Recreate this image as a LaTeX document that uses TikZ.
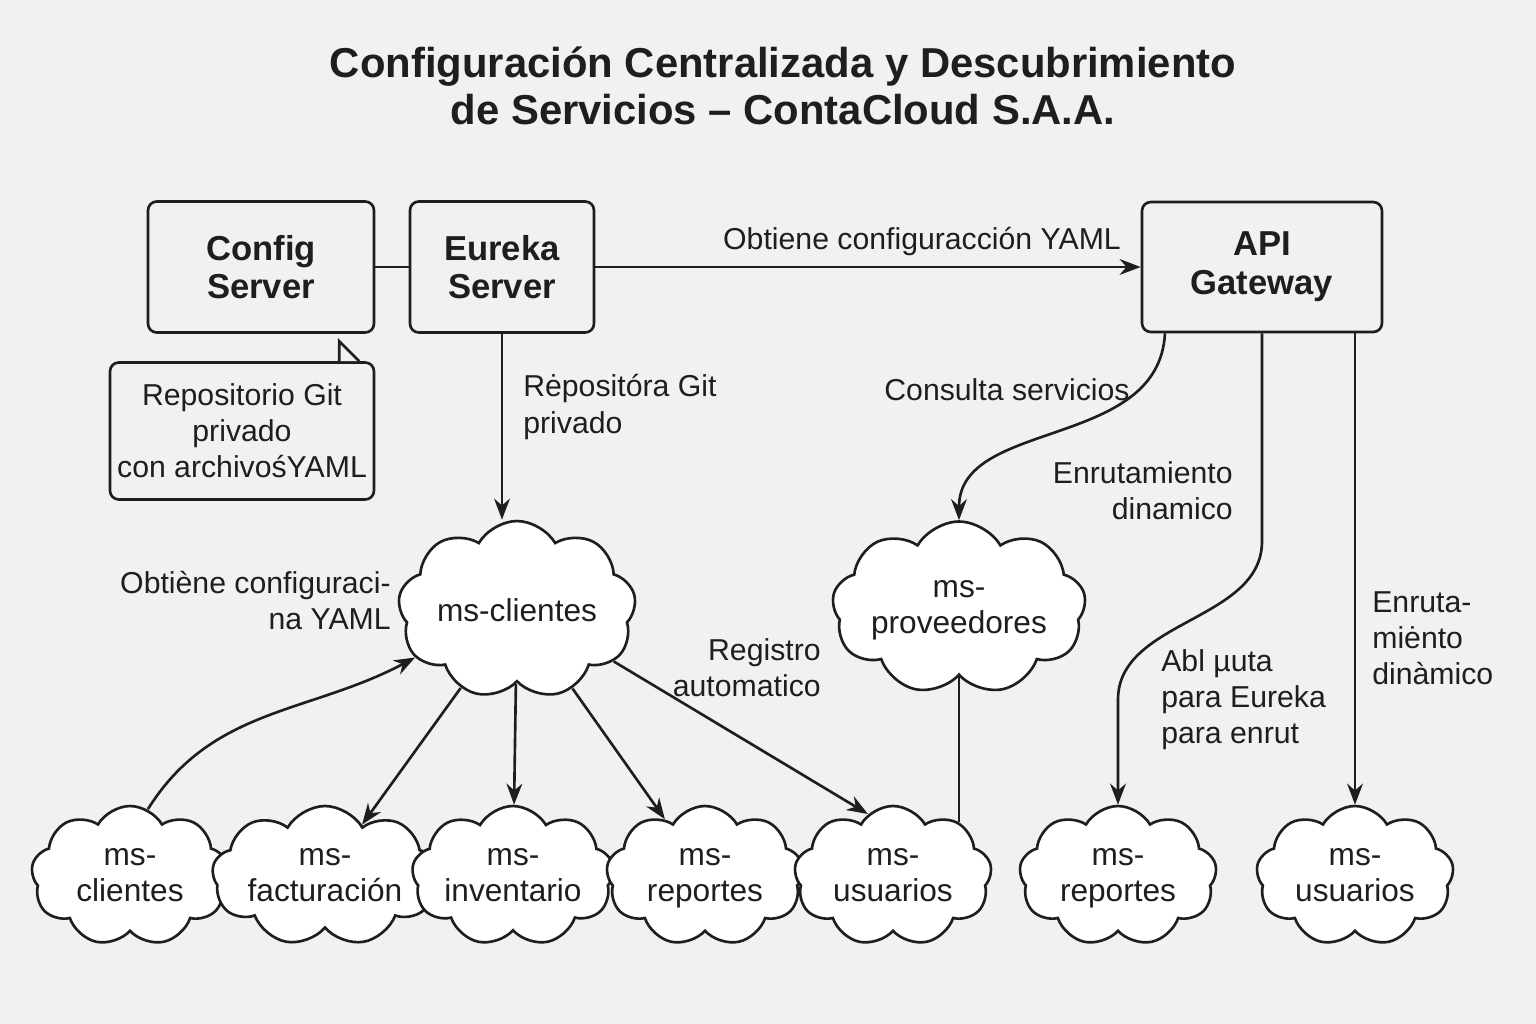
\documentclass[tikz,border=0pt]{standalone}
\usepackage{fontspec}
\setmainfont{Liberation Sans}
\usetikzlibrary{shapes.symbols,arrows.meta,positioning,calc}
\definecolor{fondo}{HTML}{F1F1F1}
\definecolor{tinta}{HTML}{1E1E1E}
\newcommand\etiq{\fontsize{17.2}{20.5}\selectfont}
\newcommand\fuentenube{\fontsize{18}{20.5}\selectfont}
\newcommand\fuentecaja{\fontsize{19.7}{22}\selectfont\bfseries}
\newcommand\fuentetitulo{\fontsize{23.8}{26.8}\selectfont\bfseries}
\def\fila{876}

\begin{document}
\begin{tikzpicture}[x=0.02cm,y=-0.02cm,line width=1.5pt,color=tinta,>={Stealth[length=12pt,width=9pt]}]
    \tikzstyle{servidor}=[draw,rounded corners=5pt,fill=fondo,font=\fuentecaja,align=center,minimum height=2.62cm]
    \tikzstyle{nube}=[cloud,cloud puffs=9,cloud puff arc=120,cloud ignores aspect,draw,fill=white,align=center,font=\fuentenube,inner sep=0pt]
    \tikzstyle{abajo}=[nube,minimum width=3.95cm,minimum height=2.8cm]
    \tikzstyle{nota}=[font=\etiq,inner sep=0pt]

    % Background and page size
    \fill[fondo] (0,0) rectangle (1536,1024);
    \useasboundingbox (0,0) rectangle (1536,1024);

    % Title
    \node[font=\fuentetitulo,align=center] (titulo) at (783,86) {Configuración Centralizada y Descubrimiento\\de Servicios – ContaCloud S.A.A.};

    % Draw the servers
    \node[servidor,minimum width=4.52cm] (config) at (261,267) {Config\\Server};
    \node[servidor,minimum width=3.68cm] (eureka) at (502,267) {Eureka\\Server};
    \node[servidor,minimum width=4.8cm,minimum height=2.6cm] (api) at (1262,267) {API\\Gateway};

    % Repository note with its pointer
    \node[draw,rounded corners=5pt,fill=fondo,font=\etiq,align=center,minimum width=5.28cm,minimum height=2.74cm] (repo) at (242,431) {Repositorio Git\\privado\\con archivośYAML};
    \draw[fill=fondo] ($(repo.north east)+(-36,0)$) -- ++(0,-20) -- ++(20,20);

    % Draw the clouds in the middle row
    \node[nube,minimum width=4.76cm,minimum height=3.56cm] (clientes) at (517,610) {ms-clientes};
    \node[nube,minimum width=4.76cm,minimum height=3.46cm] (proveedores) at (959,608) {\strut ms-\\proveedores\strut};

    % Draw the bottom row of clouds
    \foreach \num/\x/\texto in {1/130/clientes,2/325/facturación,3/513/inventario,4/705/reportes,5/893/usuarios,6/1118/reportes,7/1355/usuarios}
        \node[abajo] (M-\num) at (\x,\fila) {\strut ms-\\\texto\strut};

    % Connect the servers
    \draw (config.east) -- (eureka.west);
    \draw[->] (eureka.east) -- (api.west);
    \draw[->] (eureka.south) -- (eureka.south |- clientes.north);

    % Connect ms-clientes with the bottom row
    \draw[->] (M-1.75) to[out=58,in=-152] (clientes.205);
    \foreach \dest in {2,...,4}
        \draw[->] (clientes) -- (M-\dest);
    \draw[->] (clientes.-28) -- (M-5.112);
    \draw (proveedores.south) -- (proveedores.south |- M-5.40);

    % Connect the gateway
    \draw[->] ($(api.south west)!0.1!(api.south east)$) .. controls ++(-6,117) and ($(proveedores.north)+(0,-102)$) .. (proveedores.north);
    \draw[->] (api.south) -- ++(0,208) .. controls ++(0,80) and ($(M-6.north)+(0,-185)$) .. ($(M-6.north)+(0,-105)$) -- (M-6.north);
    \draw[->] (api.south -| M-7.north) -- (M-7.north);

    % Annotate the connectors
    \node[nota] (l-yaml) at (922,242) {Obtiene configuracción YAML};
    \node[nota,align=left,anchor=west] (l-git) at (522,407) {Rėpositóra Git\\privado};
    \node[nota] (l-consulta) at (1007,390) {Consulta servicios};
    \node[nota,align=right,anchor=east] (l-enr1) at (1234,491) {Enrutamiento\\dinamico};
    \node[nota,align=right,anchor=east] (l-obt) at (392,601) {Obtiène configuraci-\\na YAML};
    \node[nota,align=right,anchor=east] (l-reg) at (822,668) {Registro\\automatico};
    \node[nota,align=left,anchor=west] (l-abl) at (1160,700) {Abl µuta\\para Eureka\\para enrut};
    \node[nota,align=left,anchor=west] (l-enr2) at (1371,638) {Enruta-\\miėnto\\dinàmico};
\end{tikzpicture}
\end{document}
